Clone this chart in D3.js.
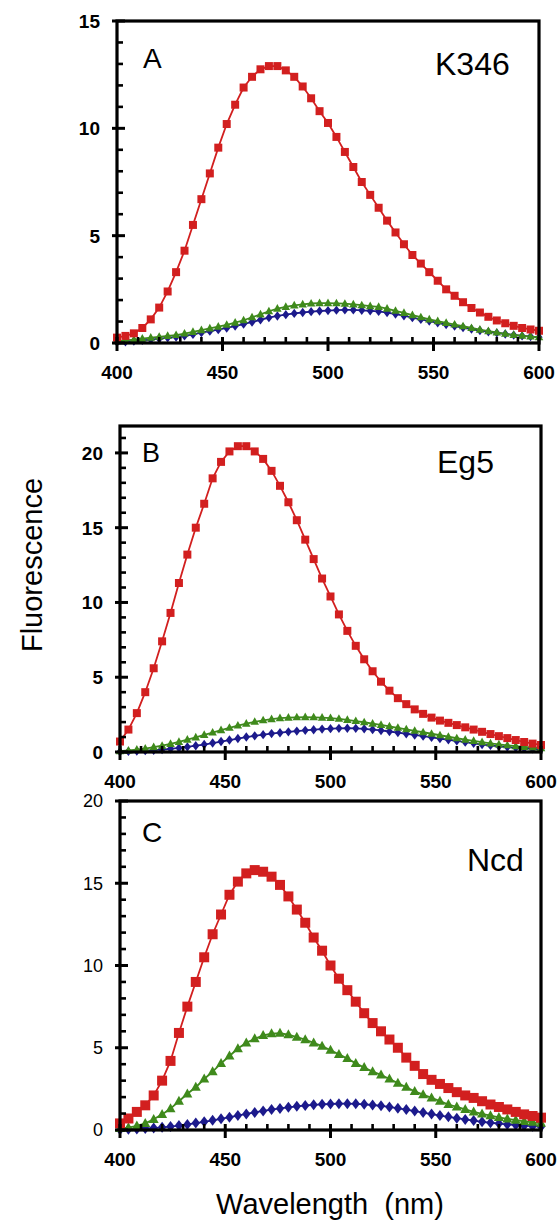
<!DOCTYPE html>
<html><head><meta charset="utf-8">
<script src="https://cdn.jsdelivr.net/npm/d3@7"></script>
<style>body{margin:0;background:#fff}svg{display:block}</style>
</head><body>
<svg id="c" width="558" height="1226"></svg>
<script>
const wavelengths = [400,404,408,412,416,420,424,428,432,436,440,444,448,452,456,460,464,468,472,476,480,484,488,492,496,500,504,508,512,516,520,524,528,532,536,540,544,548,552,556,560,564,568,572,576,580,584,588,592,596,600];

const redA = [0.25,0.33,0.45,0.7,1.1,1.65,2.4,3.3,4.3,5.5,6.7,7.9,9.1,10.2,11.1,11.9,12.4,12.75,12.9,12.9,12.7,12.4,11.95,11.4,10.8,10.25,9.6,8.9,8.2,7.5,6.9,6.3,5.7,5.15,4.6,4.1,3.7,3.3,2.9,2.5,2.2,1.9,1.63,1.42,1.22,1.05,0.92,0.8,0.7,0.63,0.57];
const greenA = [0.08,0.12,0.16,0.2,0.25,0.29,0.33,0.37,0.44,0.52,0.6,0.68,0.76,0.85,0.95,1.06,1.2,1.33,1.48,1.6,1.68,1.75,1.8,1.84,1.86,1.86,1.85,1.83,1.8,1.76,1.72,1.68,1.6,1.5,1.4,1.3,1.2,1.1,1.02,0.94,0.86,0.78,0.7,0.62,0.55,0.49,0.43,0.38,0.34,0.3,0.27];
const blueA = [0.03,0.06,0.09,0.12,0.16,0.2,0.24,0.28,0.33,0.4,0.48,0.55,0.62,0.7,0.79,0.88,0.98,1.08,1.18,1.26,1.32,1.38,1.42,1.46,1.49,1.51,1.53,1.54,1.54,1.52,1.5,1.47,1.42,1.35,1.27,1.18,1.1,1.02,0.94,0.86,0.79,0.72,0.65,0.58,0.52,0.47,0.42,0.37,0.33,0.3,0.27];

const redB = [0.7,1.5,2.6,4.0,5.6,7.4,9.3,11.3,13.2,15.0,16.6,18.3,19.4,20.1,20.45,20.45,20.1,19.6,18.8,17.8,16.7,15.5,14.2,12.9,11.6,10.4,9.2,8.1,7.1,6.2,5.4,4.7,4.1,3.6,3.2,2.85,2.55,2.3,2.1,1.95,1.8,1.65,1.5,1.35,1.2,1.06,0.93,0.8,0.67,0.56,0.47];
const greenB = [0.05,0.1,0.16,0.23,0.32,0.42,0.54,0.68,0.83,0.98,1.14,1.3,1.46,1.62,1.77,1.9,2.02,2.12,2.2,2.26,2.3,2.32,2.33,2.32,2.3,2.27,2.22,2.15,2.07,1.99,1.9,1.81,1.72,1.62,1.52,1.42,1.32,1.22,1.12,1.02,0.92,0.83,0.74,0.66,0.58,0.51,0.45,0.39,0.34,0.3,0.26];
const blueB = [0.02,0.04,0.06,0.09,0.12,0.16,0.21,0.27,0.34,0.42,0.5,0.6,0.7,0.8,0.9,1.0,1.08,1.16,1.23,1.29,1.35,1.4,1.45,1.49,1.53,1.56,1.58,1.59,1.58,1.55,1.5,1.44,1.37,1.3,1.22,1.14,1.06,0.98,0.9,0.82,0.74,0.66,0.58,0.5,0.44,0.38,0.33,0.28,0.24,0.21,0.18];

const redC = [0.4,0.7,1.1,1.5,2.1,3.0,4.2,5.9,7.5,9.0,10.5,11.9,13.1,14.3,15.1,15.6,15.8,15.7,15.4,14.9,14.2,13.4,12.6,11.7,10.9,10.0,9.2,8.5,7.8,7.1,6.5,6.0,5.5,5.0,4.4,3.9,3.4,3.05,2.8,2.55,2.3,2.1,1.95,1.75,1.55,1.4,1.25,1.1,0.95,0.85,0.75];
const greenC = [0.1,0.15,0.25,0.4,0.65,0.95,1.3,1.75,2.2,2.6,3.1,3.55,4.05,4.5,4.95,5.3,5.55,5.75,5.85,5.88,5.8,5.65,5.5,5.3,5.1,4.85,4.6,4.35,4.05,3.8,3.55,3.35,3.1,2.85,2.6,2.35,2.15,1.95,1.75,1.55,1.4,1.25,1.1,0.98,0.87,0.77,0.68,0.6,0.53,0.47,0.42];
const blueC = [0.02,0.04,0.06,0.09,0.12,0.16,0.21,0.27,0.34,0.42,0.5,0.59,0.68,0.78,0.88,0.98,1.07,1.16,1.24,1.31,1.38,1.44,1.49,1.53,1.56,1.58,1.6,1.6,1.59,1.56,1.52,1.47,1.4,1.32,1.24,1.15,1.06,0.97,0.88,0.8,0.72,0.64,0.57,0.5,0.44,0.39,0.34,0.3,0.26,0.23,0.2];

const xTicks = [400,450,500,550,600];
const yTicksA = [0,5,10,15];
const yTicksB = [0,5,10,15,20];
const yTicksC = [0,5,10,15,20];
const panelLetters = ["A","B","C"];
const panelNames = ["K346","Eg5","Ncd"];
const yLabel = "Fluorescence";
const xLabel = "Wavelength  (nm)";

const RED = "#d21f1f", GREEN = "#3f8a1c", BLUE = "#1c1a8c";
const svg = d3.select("#c");

const panels = [
  {red:redA, green:greenA, blue:blueA, yTicks:yTicksA, yMax:15, x0:117, x1:539, y0:343, y1:21, sq:8, tri:8.5, dia:8.5, yBold:true,
   letter:{x:143,y:68,size:28}, name:{x:435,y:75,size:32}},
  {red:redB, green:greenB, blue:blueB, yTicks:yTicksB, yMax:21.8, x0:120, x1:541, y0:752, y1:426, sq:8, tri:8.5, dia:8.5, yBold:true,
   letter:{x:142,y:462,size:27}, name:{x:437,y:473,size:32}},
  {red:redC, green:greenC, blue:blueC, yTicks:yTicksC, yMax:20, x0:120, x1:541, y0:1130, y1:801, sq:10, tri:10, dia:10, yBold:false,
   letter:{x:142,y:842,size:28}, name:{x:467,y:871,size:32}}
];

function triPath(s){ const h=s*0.9; return `M0,${-h*0.6}L${s/2},${h*0.4}L${-s/2},${h*0.4}Z`; }
function diaPath(s){ const w=s*0.42, h=s*0.55; return `M0,${-h}L${w},0L0,${h}L${-w},0Z`; }
function sqPath(s){ const h=s/2; return `M${-h},${-h}H${h}V${h}H${-h}Z`; }

panels.forEach((p,i)=>{
  const x = d3.scaleLinear().domain([400,600]).range([p.x0,p.x1]);
  const y = d3.scaleLinear().domain([0,p.yMax]).range([p.y0,p.y1]);
  const g = svg.append("g");

  const series = [
    {vals:p.blue, color:BLUE, shape:diaPath(p.dia)},
    {vals:p.green, color:GREEN, shape:triPath(p.tri)},
    {vals:p.red, color:RED, shape:sqPath(p.sq)}
  ];
  series.forEach(s=>{
    const pts = wavelengths.map((w,k)=>[w,s.vals[k]]);
    g.append("path").datum(pts)
      .attr("d", d3.line().x(d=>x(d[0])).y(d=>y(d[1])))
      .attr("fill","none").attr("stroke",s.color).attr("stroke-width",1.8);
    g.selectAll(null).data(pts).enter().append("path")
      .attr("d", s.shape)
      .attr("transform", d=>`translate(${x(d[0])},${y(d[1])})`)
      .attr("fill", s.color);
  });

  g.append("rect").attr("x",p.x0).attr("y",p.y1).attr("width",p.x1-p.x0).attr("height",p.y0-p.y1)
    .attr("fill","none").attr("stroke","#000").attr("stroke-width",3.2);

  const yMinor = d3.range(1, Math.floor(p.yMax)+1).filter(v=>v%5!==0);
  g.selectAll(null).data(yMinor).enter().append("line")
    .attr("x1",p.x0).attr("x2",p.x0+6).attr("y1",d=>y(d)).attr("y2",d=>y(d))
    .attr("stroke","#000").attr("stroke-width",2.6);
  g.selectAll(null).data(p.yTicks).enter().append("line")
    .attr("x1",p.x0-5).attr("x2",p.x0+8).attr("y1",d=>y(d)).attr("y2",d=>y(d))
    .attr("stroke","#000").attr("stroke-width",3);
  g.selectAll(null).data(p.yTicks).enter().append("text")
    .attr("x",p.x0-17).attr("y",d=>y(d)).attr("dy","0.36em")
    .attr("text-anchor","end").attr("font-family","Liberation Sans, Arial, sans-serif")
    .attr("font-weight",p.yBold?"bold":"normal").attr("font-size",p.yBold?19:18)
    .text(d=>d);

  const xMinor = d3.range(410,600,10).filter(v=>v%50!==0);
  g.selectAll(null).data(xMinor).enter().append("line")
    .attr("x1",d=>x(d)).attr("x2",d=>x(d)).attr("y1",p.y0).attr("y2",p.y0-6)
    .attr("stroke","#000").attr("stroke-width",2.6);
  g.selectAll(null).data(xTicks).enter().append("line")
    .attr("x1",d=>x(d)).attr("x2",d=>x(d)).attr("y1",p.y0+8).attr("y2",p.y0-6)
    .attr("stroke","#000").attr("stroke-width",3);
  g.selectAll(null).data(xTicks).enter().append("text")
    .attr("x",d=>x(d)).attr("y",p.y0+36)
    .attr("text-anchor","middle").attr("font-family","Liberation Sans, Arial, sans-serif")
    .attr("font-weight","bold").attr("font-size",19)
    .text(d=>d);

  g.append("text").attr("x",p.letter.x).attr("y",p.letter.y)
    .attr("font-family","Liberation Sans, Arial, sans-serif").attr("font-size",p.letter.size).text(panelLetters[i]);
  g.append("text").attr("x",p.name.x).attr("y",p.name.y)
    .attr("font-family","Liberation Sans, Arial, sans-serif").attr("font-size",p.name.size).text(panelNames[i]);
});

svg.append("text").attr("transform","translate(42,565) rotate(-90)")
  .attr("text-anchor","middle").attr("font-family","Liberation Sans, Arial, sans-serif")
  .attr("font-size",29).text(yLabel);
svg.append("text").attr("x",330).attr("y",1214)
  .attr("text-anchor","middle").attr("font-family","Liberation Sans, Arial, sans-serif")
  .attr("font-size",29).style("white-space","pre").text(xLabel);
</script>
</body></html>
